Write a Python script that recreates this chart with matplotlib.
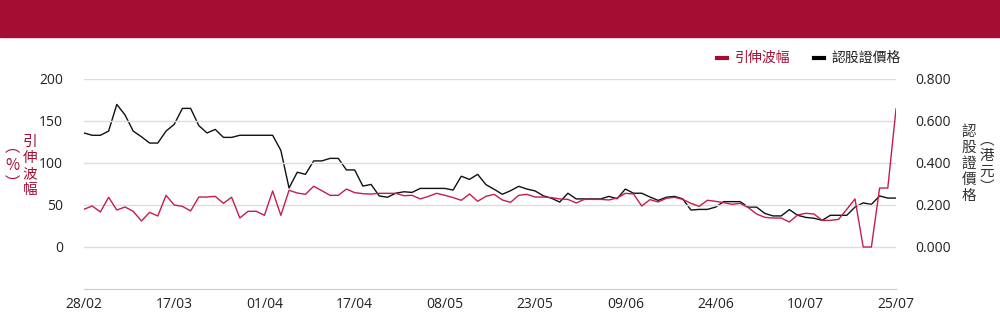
import matplotlib
matplotlib.use("Agg")
import matplotlib.pyplot as plt
from matplotlib.patches import Rectangle
from matplotlib.lines import Line2D

plt.rcParams['font.family'] = ['Open Sans', 'Noto Sans CJK TC', 'DejaVu Sans']

# trading-day labels shown on the x axis (every 11th day)
tick_labels = ['28/02', '17/03', '01/04', '17/04', '08/05',
               '23/05', '09/06', '24/06', '10/07', '25/07']

# implied volatility (%)
iv = [44.9, 48.8, 41.7, 59.2, 44.0, 47.6, 42.5, 31.0, 41.3, 36.9,
      61.5, 50.0, 48.4, 42.9, 59.5, 59.5, 60.3, 52.0, 59.2, 34.5,
      42.5, 42.5, 37.7, 66.7, 37.7, 67.5, 64.3, 62.7, 72.3, 67.0,
      61.5, 61.5, 69.0, 64.7, 63.5, 63.0, 63.9, 63.9, 63.9, 61.1,
      61.5, 57.2, 60.3, 63.9, 61.5, 58.8, 55.6, 63.1, 54.4, 60.3,
      62.7, 56.0, 53.2, 61.5, 62.7, 59.5, 59.5, 58.8, 57.2, 56.7,
      52.4, 56.7, 56.7, 56.7, 56.0, 58.4, 63.9, 63.1, 48.8, 56.4,
      53.6, 58.0, 59.2, 56.7, 52.0, 48.4, 55.6, 54.4, 52.8, 50.8,
      52.0, 46.8, 39.3, 35.3, 34.5, 34.5, 29.8, 38.1, 40.1, 39.3,
      31.7, 31.7, 32.9, 44.9, 57.2, 0.0, 0.0, 70.2, 70.2, 164.3]

# warrant price (HKD)
price = [0.543, 0.532, 0.532, 0.552, 0.679, 0.629, 0.552, 0.525, 0.495, 0.495,
         0.552, 0.584, 0.660, 0.660, 0.578, 0.543, 0.560, 0.522, 0.522, 0.532,
         0.532, 0.532, 0.532, 0.532, 0.460, 0.281, 0.356, 0.346, 0.410, 0.410,
         0.422, 0.422, 0.367, 0.367, 0.290, 0.298, 0.243, 0.237, 0.256, 0.263,
         0.260, 0.279, 0.279, 0.279, 0.279, 0.271, 0.337, 0.322, 0.346, 0.297,
         0.275, 0.251, 0.268, 0.289, 0.276, 0.267, 0.244, 0.232, 0.214, 0.256,
         0.229, 0.229, 0.229, 0.229, 0.241, 0.230, 0.276, 0.256, 0.256, 0.238,
         0.222, 0.237, 0.241, 0.229, 0.176, 0.179, 0.179, 0.190, 0.216, 0.216,
         0.216, 0.190, 0.190, 0.160, 0.148, 0.148, 0.178, 0.151, 0.141, 0.137,
         0.127, 0.151, 0.151, 0.151, 0.190, 0.210, 0.203, 0.243, 0.233, 0.233]

red = '#A50E33'
line_red = '#C41E4A'
x = list(range(len(iv)))

fig = plt.figure(figsize=(10, 3.24), dpi=100)
fig.patches.append(Rectangle((0, 1 - 37 / 324), 1, 37 / 324,
                             transform=fig.transFigure, color=red, zorder=0))

ax = fig.add_axes([0.084, 1 - 289 / 324, 0.812, (289 - 79) / 324])
ax2 = ax.twinx()

ax2.plot(x, price, color='#111111', lw=1.0)
ax.plot(x, iv, color=line_red, lw=1.0)
ax.set_zorder(ax2.get_zorder() + 1)
ax.patch.set_visible(False)

ax.set_xlim(0, len(iv) - 1)
ax.set_ylim(-50, 200)
ax.set_yticks([0, 50, 100, 150, 200])
ax2.set_ylim(-0.2, 0.8)
ax2.set_yticks([0.0, 0.2, 0.4, 0.6, 0.8])
ax2.set_yticklabels(['%.3f' % v for v in [0.0, 0.2, 0.4, 0.6, 0.8]])
ax.set_xticks(list(range(0, len(iv), 11)))
ax.set_xticklabels(tick_labels)

ax.grid(axis='y', color='#dddddd', lw=1.0)
ax.set_axisbelow(True)
for a in (ax, ax2):
    for s in ('top', 'left', 'right'):
        a.spines[s].set_visible(False)
    a.spines['bottom'].set_color('#cccccc')
ax.tick_params(axis='y', length=0, pad=15, labelsize=10, labelcolor='#222222')
ax2.tick_params(axis='y', length=0, pad=14, labelsize=10, labelcolor='#222222')
ax.tick_params(axis='x', length=0, pad=6, labelsize=10, labelcolor='#222222')

cjk = ['Noto Sans CJK TC', 'DejaVu Sans']
# left axis title (vertical writing)
fig.text(0.030, 0.488, '引\n伸\n波\n幅', color=red, fontsize=10.5, family=cjk,
         ha='center', va='center', linespacing=1.2)
fig.text(0.012, 0.49, '︵\n%\n︶', color=red, fontsize=11, family=cjk,
         ha='center', va='center', linespacing=1.1)
# right axis title
fig.text(0.969, 0.494, '認\n股\n證\n價\n格', color='#333333', fontsize=10.5,
         family=cjk, ha='center', va='center', linespacing=1.2)
fig.text(0.987, 0.494, '︵\n港\n元\n︶', color='#333333', fontsize=10.5,
         family=cjk, ha='center', va='center', linespacing=1.15)

# legend
ly = 1 - 58 / 324
fig.lines.append(Line2D([0.717, 0.727], [ly, ly], transform=fig.transFigure,
                        color=red, lw=3))
fig.text(0.735, ly, '引伸波幅', color=red, fontsize=10, family=cjk, va='center')
fig.lines.append(Line2D([0.814, 0.824], [ly, ly], transform=fig.transFigure,
                        color='#000000', lw=3))
fig.text(0.831, ly, '認股證價格', color='#222222', fontsize=10, family=cjk,
         va='center')

fig.savefig('out.png', dpi=100)
